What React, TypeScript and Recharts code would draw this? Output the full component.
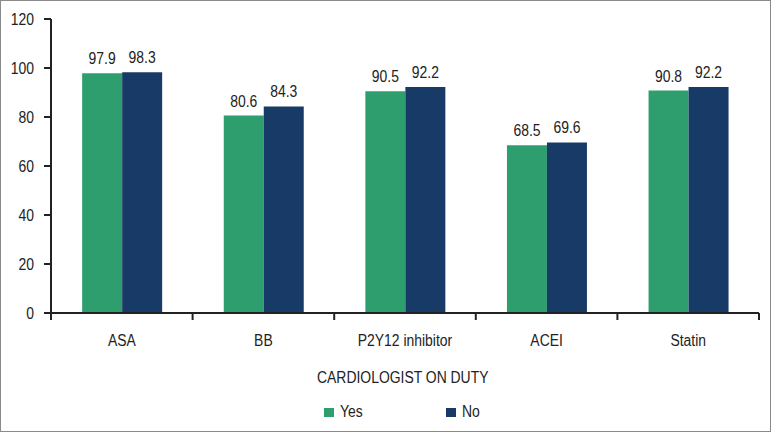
import React from "react";
import { BarChart, Bar, XAxis, YAxis, LabelList, Legend } from "recharts";

const categories = ["ASA", "BB", "P2Y12 inhibitor", "ACEI", "Statin"];
const yesValues = [97.9, 80.6, 90.5, 68.5, 90.8];
const noValues = [98.3, 84.3, 92.2, 69.6, 92.2];
const yTicks = [0, 20, 40, 60, 80, 100, 120];

const GREEN = "#2f9e6f";
const NAVY = "#173b66";
const INK = "#222";
const FONT = "'Liberation Sans', Arial, sans-serif";
const SQUEEZE = 0.87; // reference uses a narrow face
const X_TICK_SIZE = 7;
const X_TICK_MARGIN = 15;

const data = categories.map((name, i) => ({ name, yes: yesValues[i], no: noValues[i] }));

function NarrowText({ x, y, anchor, dy, children }: any) {
  return (
    <text
      transform={`translate(${x},${y}) scale(${SQUEEZE},1)`}
      textAnchor={anchor}
      dy={dy}
      fill={INK}
      fontSize={16}
      fontFamily={FONT}
    >
      {children}
    </text>
  );
}

// category label plus tick marks on the band edges (not the centre)
const XTick = ({ x, y, payload, index, visibleTicksCount }: any) => {
  const half = payload.offset || 0;
  const axisY = y - X_TICK_SIZE - X_TICK_MARGIN;
  const last = index === visibleTicksCount - 1;
  return (
    <g>
      <line x1={x - half} x2={x - half} y1={axisY} y2={axisY + X_TICK_SIZE} stroke={INK} strokeWidth={2} />
      {last && (
        <line x1={x + half} x2={x + half} y1={axisY} y2={axisY + X_TICK_SIZE} stroke={INK} strokeWidth={2} />
      )}
      <NarrowText x={x} y={y} anchor="middle" dy="0.71em">
        {payload.value}
      </NarrowText>
    </g>
  );
};

const YTick = ({ x, y, payload }: any) => (
  <NarrowText x={x} y={y} anchor="end" dy="0.355em">
    {payload.value}
  </NarrowText>
);

const BarValue = ({ x, y, width, value }: any) => (
  <NarrowText x={Number(x) + Number(width) / 2} y={Number(y) - 9} anchor="middle">
    {value}
  </NarrowText>
);

function LegendBox() {
  const narrow = { transform: `scaleX(${SQUEEZE})`, transformOrigin: "left top" } as const;
  return (
    <div style={{ position: "relative", width: 760, height: 78, fontFamily: FONT, color: INK, fontSize: 16 }}>
      <div style={{ position: "absolute", left: 311, top: 16, whiteSpace: "nowrap", ...narrow }}>
        CARDIOLOGIST ON DUTY
      </div>
      <div style={{ position: "absolute", left: 318, top: 55, width: 10, height: 9, background: GREEN }} />
      <div style={{ position: "absolute", left: 334, top: 50, ...narrow }}>Yes</div>
      <div style={{ position: "absolute", left: 440, top: 55, width: 10, height: 9, background: NAVY }} />
      <div style={{ position: "absolute", left: 456, top: 50, ...narrow }}>No</div>
    </div>
  );
}

export default function App() {
  return (
    <div
      style={{
        position: "absolute",
        left: 0,
        top: 0,
        width: 771,
        height: 432,
        boxSizing: "border-box",
        border: "1px solid #8a8a8a",
        background: "#fff",
      }}
    >
      <BarChart
        width={769}
        height={430}
        data={data}
        margin={{ top: 18, right: 11, left: 5, bottom: 0 }}
        barCategoryGap="22%"
        barGap={0}
      >
        <XAxis
          dataKey="name"
          height={40}
          tickLine={false}
          tickSize={X_TICK_SIZE}
          tickMargin={X_TICK_MARGIN}
          axisLine={{ stroke: INK, strokeWidth: 2 }}
          tick={<XTick />}
          interval={0}
        />
        <YAxis
          domain={[0, 120]}
          ticks={yTicks}
          width={45}
          axisLine={{ stroke: INK, strokeWidth: 2 }}
          tickLine={{ stroke: INK, strokeWidth: 2 }}
          tickSize={7}
          tickMargin={10}
          tick={<YTick />}
        />
        <Legend verticalAlign="bottom" height={78} content={() => <LegendBox />} />
        <Bar dataKey="yes" fill={GREEN} isAnimationActive={false}>
          <LabelList dataKey="yes" content={<BarValue />} />
        </Bar>
        <Bar dataKey="no" fill={NAVY} isAnimationActive={false}>
          <LabelList dataKey="no" content={<BarValue />} />
        </Bar>
      </BarChart>
    </div>
  );
}
